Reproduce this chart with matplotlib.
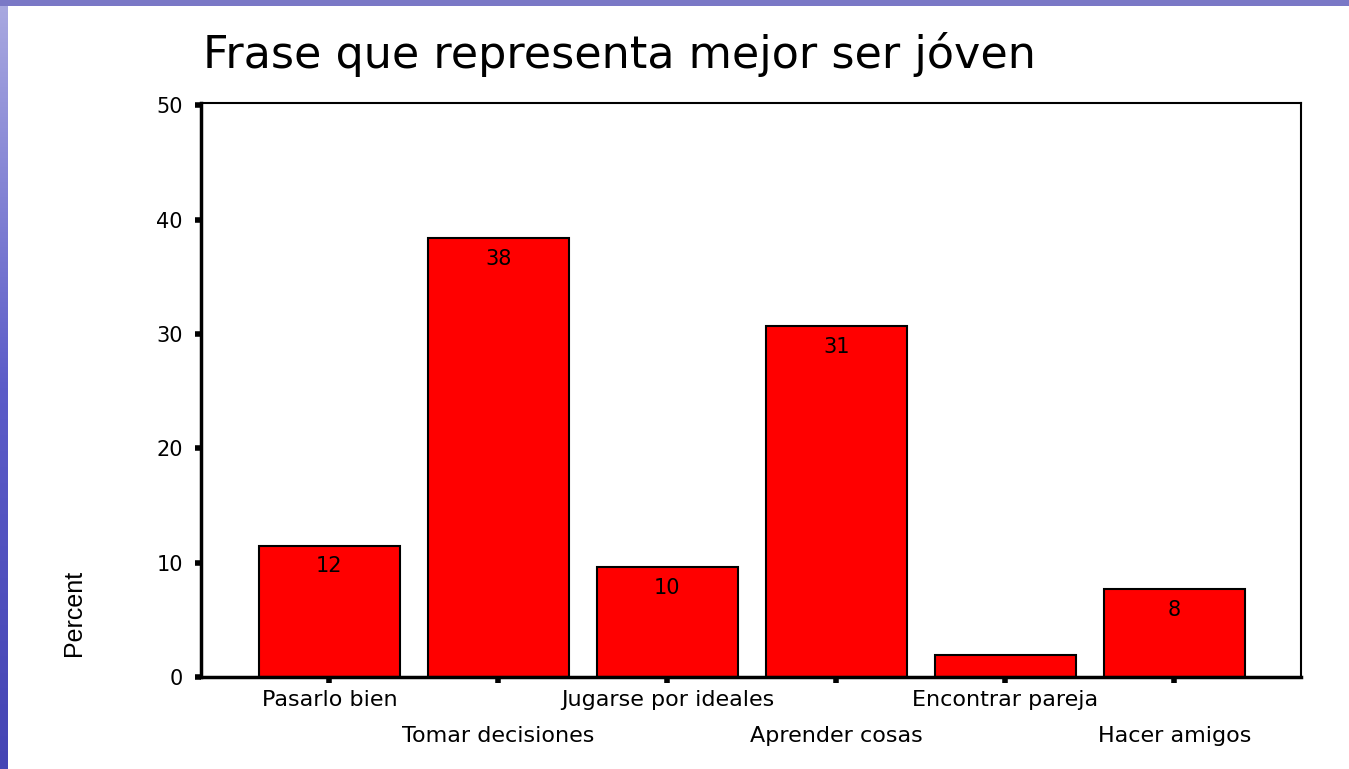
import matplotlib
matplotlib.use("Agg")
import matplotlib.pyplot as plt
import numpy as np
from matplotlib.patches import Rectangle

plt.rcParams["font.family"] = ["DejaVu Sans"]

categories = [
    "Pasarlo bien",
    "Tomar decisiones",
    "Jugarse por ideales",
    "Aprender cosas",
    "Encontrar pareja",
    "Hacer amigos",
]
percent = [11.5, 38.4, 9.6, 30.7, 1.9, 7.7]
bar_labels = ["12", "38", "10", "31", "", "8"]
y_ticks = [0, 10, 20, 30, 40, 50]

W, H = 1349, 769
fig = plt.figure(figsize=(W / 100, H / 100), dpi=100)
fig.patch.set_facecolor("white")

# slide frame: purple strip on top and a bluish gradient on the left
fig.patches.append(Rectangle((0, 1 - 6 / H), 1, 6 / H, transform=fig.transFigure,
                             facecolor="#7a78c6", edgecolor="none", zorder=0))
edge = fig.add_axes([0, 0, 8 / W, 1 - 6 / H])
grad = np.linspace(0, 1, 256).reshape(-1, 1)
edge.imshow(grad, aspect="auto", cmap=matplotlib.colors.LinearSegmentedColormap.from_list(
    "edge", ["#a8a8e0", "#5c5cc8", "#4444b4"]), extent=[0, 1, 0, 1])
edge.set_axis_off()

ax = fig.add_axes([201 / W, 1 - 677 / H, 1100 / W, 574 / H])
x = np.arange(len(categories))
bars = ax.bar(x, percent, width=0.834, color="#ff0000", edgecolor="black", linewidth=1.5)

for rect, lab in zip(bars, bar_labels):
    if lab:
        ax.annotate(lab, (rect.get_x() + rect.get_width() / 2, rect.get_height()),
                    xytext=(0, -15), textcoords="offset points",
                    ha="center", va="center", fontsize=15)

ax.set_xlim(-0.76, 5.75)
ax.set_ylim(0, 50.2)
ax.set_yticks(y_ticks)
ax.set_yticklabels([str(t) for t in y_ticks], fontsize=15)
ax.set_xticks(x)
ax.set_xticklabels(categories, fontsize=16)
ax.tick_params(axis="both", length=4, width=4, direction="out", pad=9)
ax.tick_params(axis="x", pad=5)
# alternate the category labels on two rows
for tick in ax.xaxis.get_major_ticks()[1::2]:
    tick.set_pad(31)

for side in ["left", "bottom"]:
    ax.spines[side].set_linewidth(2.5)
for side in ["top", "right"]:
    ax.spines[side].set_linewidth(1.5)

fig.text(74 / W, 1 - 613 / H, "Percent", rotation=90, ha="center", va="center",
         fontsize=18, family=["Liberation Sans Narrow", "Liberation Sans"])
fig.text(203 / W, 1 - 68 / H, "Frase que representa mejor ser jóven",
         ha="left", va="baseline", fontsize=32)

fig.savefig("out.png", dpi=100)
